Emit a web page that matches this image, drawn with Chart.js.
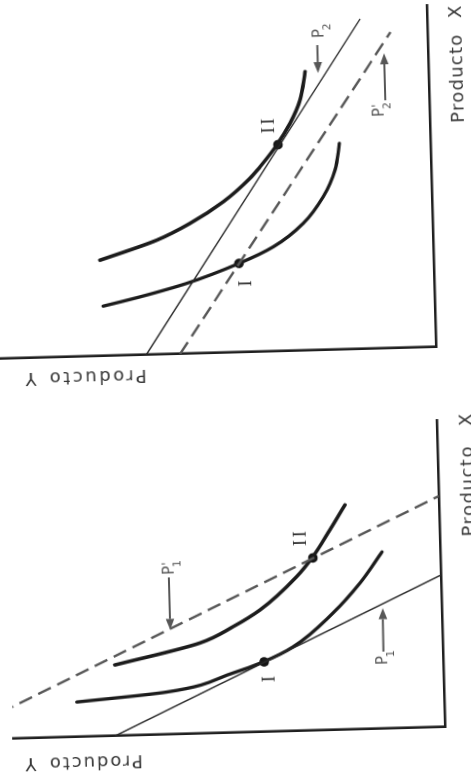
<!DOCTYPE html>
<html lang="es">
<head>
<meta charset="utf-8">
<title>Curvas de indiferencia y líneas de precio</title>
<script src="https://cdn.jsdelivr.net/npm/chart.js@4.4.1/dist/chart.umd.min.js"></script>
<style>
  html, body { margin: 0; padding: 0; background: #fff; width: 471px; height: 780px; overflow: hidden; }
  .panel { position: absolute; }
  .panel canvas { display: block; }
</style>
</head>
<body>
<div id="panelA" class="panel"><canvas id="chartA"></canvas></div>
<div id="panelB" class="panel"><canvas id="chartB"></canvas></div>
<script>
// ---------- Upper diagram: price line P2 shifts to P2' ----------
const aCurveIX   = [49.8, 58.1, 70.3, 88.9, 104.6, 127.2, 153.3, 179.7, 206.2];
const aCurveIY   = [331.6, 294.6, 247.6, 194.7, 159.9, 129.3, 108.6, 96.1, 91.1];
const aCurveIIX  = [95.8, 114.3, 130.2, 150.9, 173.6, 184.9, 206.2, 227.5, 250.6, 278.8];
const aCurveIIY  = [333.6, 276.4, 242.6, 208.7, 181.4, 171.0, 153.7, 139.9, 129.2, 123.4];
const aPriceX    = [0, 330];      // P2
const aPriceY    = [290, 67];
const aPriceNewX = [0, 316];      // P2'
const aPriceNewY = [256, 37];
const aEqX       = [88.9, 206.5]; // I, II
const aEqY       = [194.6, 152.5];

// ---------- Lower diagram: price line P1 shifts to P1' ----------
const bCurveIX   = [34.9, 42.5, 59.7, 69.9, 84.1, 117.0, 146.3, 176.7];
const bCurveIY   = [367.3, 277.0, 210.5, 180.2, 149.8, 108.9, 81.1, 58.3];
const bCurveIIX  = [70.9, 90.6, 106.1, 122.0, 154.3, 172.6, 200.1, 224.7];
const bCurveIIY  = [328.3, 242.7, 209.0, 181.8, 144.2, 128.4, 109.7, 94.0];
const bPriceX    = [0, 152];      // P1
const bPriceY    = [330, 0];
const bPriceNewX = [0, 231];      // P1'
const bPriceNewY = [501, 0];
const bEqX       = [70.0, 172.6]; // I, II
const bEqY       = [179.0, 127.5];

const eqNames   = ['I', 'II'];
const axisNameX = 'Producto X';
const axisNameY = 'Producto Y';

// ---------- layout and styling ----------
const PAD  = { left: 50, right: 20, top: 10, bottom: 50 };
const TILT = -91.55; // the page is printed turned on its side

const INK = '#1c1c1c';
const GREY = '#575757';
const LABEL = '#383838';

const panels = [
  {
    canvas: 'chartA', box: 'panelA', corner: [436, 347], xMax: 342, yMax: 445,
    curves: [[aCurveIX, aCurveIY], [aCurveIIX, aCurveIIY]],
    solid: [aPriceX, aPriceY], dashed: [aPriceNewX, aPriceNewY], eq: [aEqX, aEqY],
    notes: {
      romans: [{ x: 68.7, y: 187.6 }, { x: 225.6, y: 160.7 }],
      prices: [
        { sub: '2', prime: false, tail: [305, 110.5], tip: [277, 110.5], at: [312, 104.4] },
        { sub: '2', prime: true,  tail: [248, 44],    tip: [295, 44],    at: [231.5, 46.5] }
      ],
      axisX: { start: 223.5, end: 311.5, base: -33.7, letter: 334.3 },
      axisY: { start: 290, end: 387, base: -15, letter: 405.8 }
    }
  },
  {
    canvas: 'chartB', box: 'panelB', corner: [445, 727], xMax: 307, yMax: 432,
    curves: [[bCurveIX, bCurveIY], [bCurveIIX, bCurveIIY]],
    solid: [bPriceX, bPriceY], dashed: [bPriceNewX, bPriceNewY], eq: [bEqX, bEqY],
    notes: {
      romans: [{ x: 52.7, y: 174.2 }, { x: 192.4, y: 139.4 }],
      prices: [
        { sub: '1', prime: true,  tail: [157, 272],  tip: [104.5, 272], at: [159.5, 267.4] },
        { sub: '1', prime: false, tail: [77, 59.5],  tip: [120.5, 59],  at: [63.7, 56.5] }
      ],
      axisX: { start: 189.7, end: 279.7, base: -34.6, letter: 306.4 },
      axisY: { start: 303, end: 396, base: -20.4, letter: 415 }
    }
  }
];

function series(xs, ys) { return xs.map((v, i) => ({ x: v, y: ys[i] })); }

function spacedText(ctx, text, x, y, width) {
  ctx.letterSpacing = '0px';
  const natural = ctx.measureText(text).width;
  const gap = Math.max(0, (width - natural) / (text.length - 1));
  ctx.letterSpacing = gap + 'px';
  ctx.fillText(text, x, y);
  ctx.letterSpacing = '0px';
}

function arrow(ctx, x0, y0, x1, y1) {
  const a = Math.atan2(y1 - y0, x1 - x0), L = 11, W = 4.3;
  const c = Math.cos(a), s = Math.sin(a);
  ctx.beginPath();
  ctx.moveTo(x0, y0);
  ctx.lineTo(x1 - L * c, y1 - L * s);
  ctx.stroke();
  ctx.beginPath();
  ctx.moveTo(x1, y1);
  ctx.lineTo(x1 - L * c + W * s, y1 - L * s - W * c);
  ctx.lineTo(x1 - L * c - W * s, y1 - L * s + W * c);
  ctx.closePath();
  ctx.fill();
}

// Labels, arrows and axis names drawn on top of the datasets
const notesPlugin = {
  id: 'notes',
  afterDatasetsDraw(chart, args, opts) {
    const { ctx } = chart;
    const sx = chart.scales.x, sy = chart.scales.y;
    const px = v => sx.getPixelForValue(v);
    const py = v => sy.getPixelForValue(v);
    ctx.save();

    // roman numerals beside the equilibrium points
    ctx.fillStyle = '#333';
    ctx.font = '19px "Liberation Serif", "DejaVu Serif", serif';
    ctx.textAlign = 'center';
    ctx.textBaseline = 'middle';
    opts.romans.forEach((r, i) => {
      ctx.letterSpacing = eqNames[i].length > 1 ? '2.5px' : '0px';
      ctx.fillText(eqNames[i], px(r.x) + (eqNames[i].length > 1 ? 1.2 : 0), py(r.y));
    });
    ctx.letterSpacing = '0px';

    // price-line labels with their arrows
    ctx.strokeStyle = GREY;
    ctx.fillStyle = GREY;
    ctx.lineWidth = 2;
    ctx.textAlign = 'left';
    ctx.textBaseline = 'alphabetic';
    opts.prices.forEach(p => {
      arrow(ctx, px(p.tail[0]), py(p.tail[1]), px(p.tip[0]), py(p.tip[1]));
      const x0 = px(p.at[0]), y0 = py(p.at[1]);
      ctx.font = '15px "DejaVu Sans", sans-serif';
      ctx.fillText('P', x0, y0);
      const w = ctx.measureText('P').width;
      ctx.font = '11px "DejaVu Sans", sans-serif';
      ctx.fillText(p.sub, x0 + w - 1.5, y0 + 7.5);
      if (p.prime) {
        ctx.font = '12px "DejaVu Sans", sans-serif';
        ctx.fillText("'", x0 + w + 0.5, y0 - 3);
      }
    });

    // axis names
    ctx.fillStyle = LABEL;
    ctx.font = '18px "DejaVu Sans", sans-serif';
    const [wordX, letterX] = axisNameX.split(' ');
    const [wordY, letterY] = axisNameY.split(' ');
    const ax = opts.axisX;
    ctx.textAlign = 'left';
    spacedText(ctx, wordX, px(ax.start), py(ax.base), px(ax.end) - px(ax.start));
    ctx.textAlign = 'center';
    ctx.fillText(letterX, px(ax.letter), py(ax.base));

    const ay = opts.axisY;
    ctx.save();
    ctx.translate(px(ay.base), py(ay.start));
    ctx.rotate(-Math.PI / 2);
    ctx.textAlign = 'left';
    spacedText(ctx, wordY, 0, 0, py(ay.start) - py(ay.end));
    ctx.textAlign = 'center';
    ctx.fillText(letterY, py(ay.start) - py(ay.letter), 0);
    ctx.restore();

    ctx.restore();
  }
};

panels.forEach(p => {
  const W = PAD.left + p.xMax + PAD.right;
  const H = PAD.top + p.yMax + PAD.bottom;
  const canvas = document.getElementById(p.canvas);
  canvas.width = W;
  canvas.height = H;

  const chart = new Chart(canvas, {
    type: 'scatter',
    data: {
      datasets: [
        { data: series(p.dashed[0], p.dashed[1]), showLine: true, borderColor: GREY, borderWidth: 2.4,
          borderDash: [14, 7], pointRadius: 0 },
        { data: series(p.solid[0], p.solid[1]), showLine: true, borderColor: '#2a2a2a', borderWidth: 1.5,
          pointRadius: 0 },
        { data: series(p.curves[0][0], p.curves[0][1]), showLine: true, cubicInterpolationMode: 'monotone',
          borderColor: INK, borderWidth: 3.3, borderCapStyle: 'round', pointRadius: 0 },
        { data: series(p.curves[1][0], p.curves[1][1]), showLine: true, cubicInterpolationMode: 'monotone',
          borderColor: INK, borderWidth: 3.6, borderCapStyle: 'round', pointRadius: 0 },
        { data: series(p.eq[0], p.eq[1]), showLine: false, pointRadius: 4.8, pointBorderWidth: 0,
          pointBackgroundColor: '#151515' }
      ]
    },
    options: {
      responsive: false,
      animation: false,
      devicePixelRatio: 1,
      events: [],
      layout: { padding: PAD, autoPadding: false },
      plugins: {
        legend: { display: false },
        tooltip: { enabled: false },
        notes: p.notes
      },
      scales: {
        x: { type: 'linear', min: 0, max: p.xMax, bounds: 'data',
             ticks: { display: false }, grid: { display: false, drawTicks: false },
             border: { display: true, color: '#1f1f1f', width: 2.6 },
             afterFit: s => { s.height = 0; } },
        y: { type: 'linear', min: 0, max: p.yMax, bounds: 'data',
             ticks: { display: false }, grid: { display: false, drawTicks: false },
             border: { display: true, color: '#1f1f1f', width: 2.6 },
             afterFit: s => { s.width = 0; } }
      }
    },
    plugins: [notesPlugin]
  });

  // place the turned canvas so its origin sits on the printed corner
  const ox = chart.scales.x.getPixelForValue(0);
  const oy = chart.scales.y.getPixelForValue(0);
  const box = document.getElementById(p.box);
  box.style.width = W + 'px';
  box.style.height = H + 'px';
  box.style.left = (p.corner[0] - ox) + 'px';
  box.style.top = (p.corner[1] - oy) + 'px';
  box.style.transformOrigin = ox + 'px ' + oy + 'px';
  box.style.transform = 'rotate(' + TILT + 'deg)';
});
</script>
</body>
</html>
